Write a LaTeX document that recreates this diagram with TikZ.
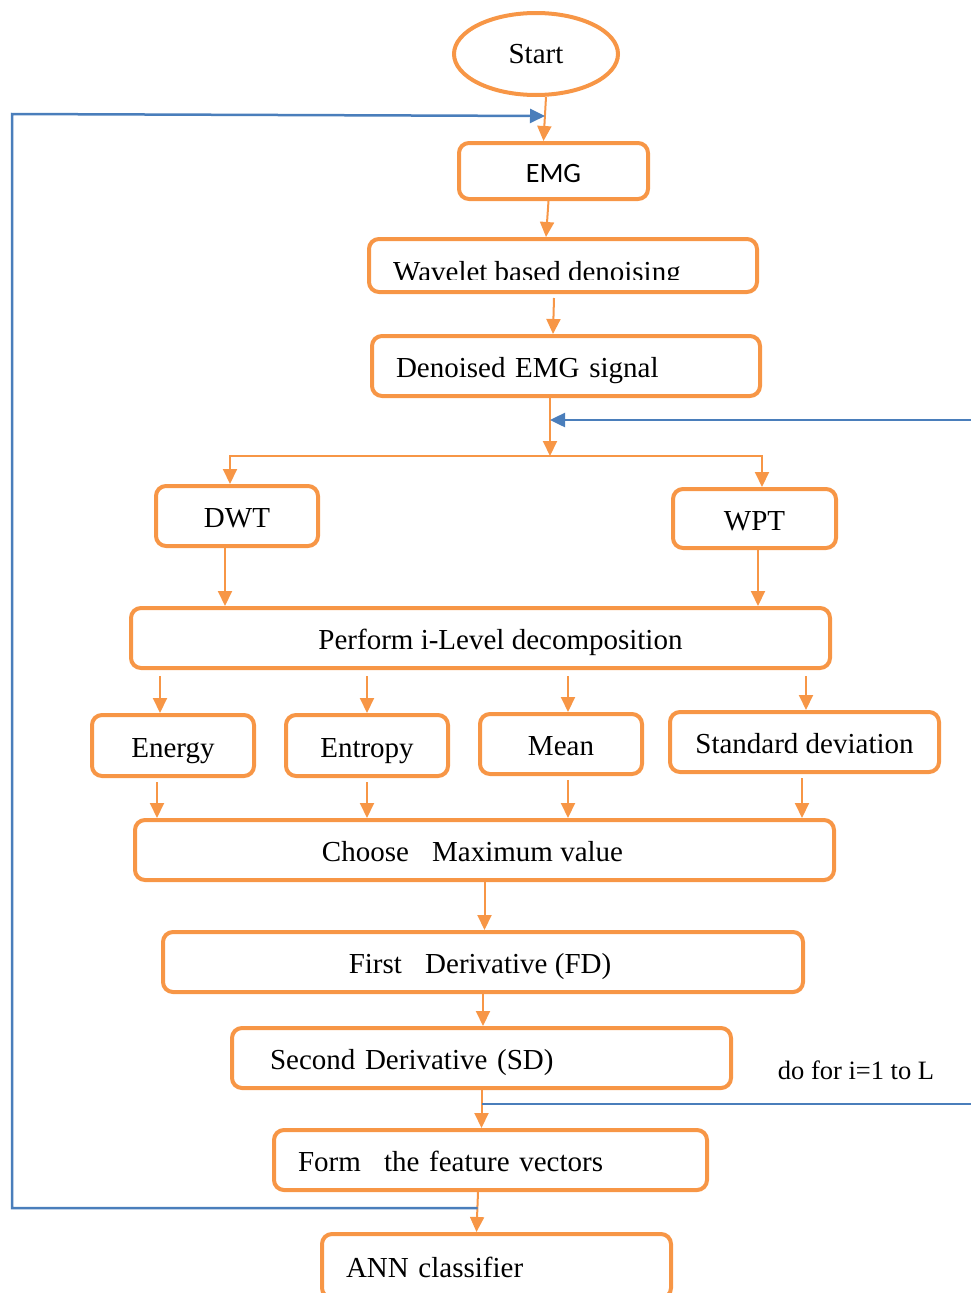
\documentclass[tikz,border=0pt]{standalone}
\usepackage{fontspec}
\setmainfont{Liberation Serif}
\newfontfamily\calibri{Carlito}
\usepackage{xcolor}
\usepackage{tikz}
\usetikzlibrary{shapes.geometric, arrows.meta, calc}
\definecolor{emgorange}{HTML}{F79646}
\definecolor{loopblue}{HTML}{4A7EBB}
\tikzstyle{procbox} = [draw=emgorange, line width=4pt, rounded corners=10pt, inner sep=0pt, text height=26pt, text depth=3pt, font=\fontsize{29}{34}\selectfont]
\tikzstyle{startstop} = [ellipse, draw=emgorange, line width=4pt, inner sep=0pt, font=\fontsize{29}{34}\selectfont]
\tikzstyle{arrow} = [emgorange, line width=2pt, -{Triangle[length=15pt,width=14pt]}]
\tikzstyle{backline} = [loopblue, line width=2.5pt]
\tikzstyle{backarrow} = [backline, -{Triangle[length=15pt,width=14pt]}]

\begin{document}
\begin{tikzpicture}[x=1pt,y=-1pt]
	\useasboundingbox (0,0) rectangle (971,1293);
	% Top of the chain:
	\node [startstop, minimum width=164, minimum height=82] (start) at (536,54) {Start};
	\node [procbox, minimum width=189, minimum height=56, font=\calibri\fontsize{28}{34}\selectfont] (emg) at (553.5,171) {EMG};
	\node [procbox, minimum width=388, minimum height=53] (wave) at (563,265.5) {};
	% The label of this box is cut at its foot:
	\begin{scope}
		\clip (380,245) rectangle (745,279);
		\node [anchor=base west, inner sep=0pt, font=\fontsize{29}{34}\selectfont] (wavetext) at (393,281) {Wavelet based denoising};
	\end{scope}
	\node [procbox, minimum height=60, text width=340, inner xsep=24, align=left] (den) at (566,366) {Denoised EMG signal};
	
	% The two transforms:
	\node [procbox, minimum width=162, minimum height=60] (dwt) at (237,516) {DWT};
	\node [procbox, minimum width=163, minimum height=59] (wpt) at (754.5,518.5) {WPT};
	\node [procbox, minimum width=699, minimum height=60] (perf) at (480.5,638) {\hspace*{40pt}Perform i-Level decomposition};
	
	% The four features:
	\node [procbox, minimum width=162, minimum height=61] (energy) at (173,745.5) {Energy};
	\node [procbox, minimum width=162, minimum height=61] (entropy) at (367,745.5) {Entropy};
	\node [procbox, minimum width=162, minimum height=60] (mean) at (561,744) {Mean};
	\node [procbox, minimum width=269, minimum height=60] (stdv) at (804.5,742) {Standard deviation};
	
	% The rest of the chain:
	\node [procbox, minimum width=699, minimum height=60] (choose) at (484.5,850) {Choose\hspace{0.8em}Maximum value\hspace*{24pt}};
	\node [procbox, minimum width=640, minimum height=60] (first) at (483,962) {First\hspace{0.8em}Derivative (FD)\hspace*{6pt}};
	\node [procbox, minimum height=60, text width=423, inner xsep=38, align=left] (second) at (481.5,1058) {Second Derivative (SD)};
	\node [procbox, minimum height=60, text width=385, inner xsep=24, align=left] (form) at (490.5,1160) {Form\hspace{0.8em}the feature vectors};
	\node [procbox, minimum height=64, text width=301, inner xsep=24, align=left] (ann) at (496.5,1266) {ANN classifier};
	\node [font=\fontsize{26.5}{30}\selectfont, inner sep=0pt] (loopnote) at (856,1070) {do for i=1 to L};
	
	% Orange arrows:
	\draw [arrow] ([xshift=10]start.south) -- ([xshift=-10]emg.north);
	\draw [arrow] ([xshift=-5]emg.south) -- ([xshift=-17]wave.north);
	\draw [arrow] ([xshift=-9,yshift=-4]wave.south) -- ([xshift=-13]den.north);
	\coordinate (split) at (550,456);
	\draw [arrow] (den.south -| split) -- (split);
	\draw [arrow] (split) -| ([xshift=-7]dwt.north);
	\draw [arrow] (split) -| ([xshift=7.5]wpt.north);
	\draw [arrow] ([xshift=-12]dwt.south) -- ([xshift=-12]dwt.south |- perf.north);
	\draw [arrow] ([xshift=3.5]wpt.south) -- ([xshift=3.5]wpt.south |- perf.north);
	\foreach \feat/\dx in {energy/-13,entropy/0,mean/7,stdv/1.5}{%
		\draw [arrow] ($(\feat.north |- perf.south)+(\dx,6)$) -- ([xshift=\dx]\feat.north);
	}
	\foreach \feat/\dx in {energy/-16,entropy/0,mean/7,stdv/-2.5}{%
		\draw [arrow] ($(\feat.south)+(\dx,4)$) -- ([xshift=\dx]\feat.south |- choose.north);
	}
	\draw [arrow] (choose.south) -- (choose.south |- first.north);
	\draw [arrow] (first.south) -- (first.south |- second.north);
	\draw [arrow] (second.south) -- ([xshift=-9]form.north);
	\draw [arrow] ([xshift=-12.5]form.south) -- ([xshift=-20]ann.north);
	
	% Blue loop lines:
	\coordinate (loopin) at (971,420);
	\draw [backarrow] (loopin) -- (loopin -| split);
	\coordinate (loopout) at (971,1104);
	\draw [backline] (loopout) -- (loopout -| second.south);
	\coordinate (fb) at ($(form.south)+(-13,16)$);
	\coordinate (emgin) at ($(start.south)+(9,19)$);
	\coordinate (corner) at (12,114);
	\draw [backarrow] (fb) -| (corner) -- (emgin);
\end{tikzpicture}
\end{document}
